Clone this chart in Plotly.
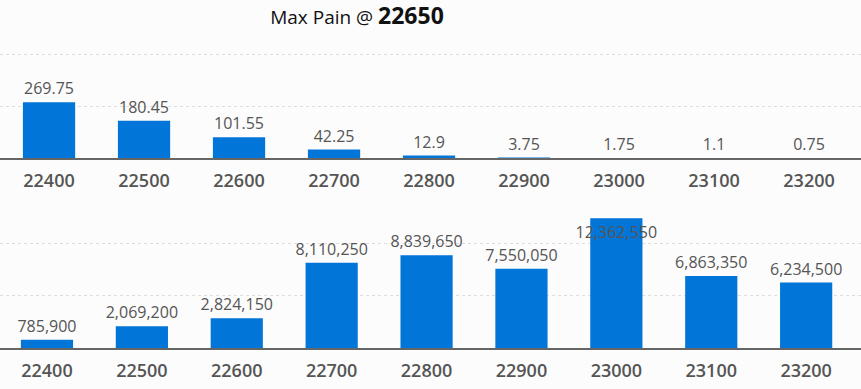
import plotly.graph_objects as go

strikes = ["22400", "22500", "22600", "22700", "22800", "22900", "23000", "23100", "23200"]
premium = [269.75, 180.45, 101.55, 42.25, 12.9, 3.75, 1.75, 1.1, 0.75]
pain = [785900, 2069200, 2824150, 8110250, 8839650, 7550050, 12362550, 6863350, 6234500]
max_pain_strike = "22650"

BAR = "#0275d8"
TXT = "#555555"
FONT = "Open Sans"
LBL = 16

top_text = [str(v) for v in premium]
bot_text = [f"{v:,}" for v in pain]
bot_pos = ["inside" if v == max(pain) else "outside" for v in pain]

fig = go.Figure()
fig.add_trace(go.Bar(
    x=strikes, y=premium, text=top_text, textposition="outside", textangle=0,
    marker=dict(color=BAR, line=dict(width=0)),
    textfont=dict(family=FONT, size=LBL, color=TXT),
    cliponaxis=False, xaxis="x", yaxis="y", hoverinfo="skip",
))
fig.add_trace(go.Bar(
    x=strikes, y=pain, text=bot_text, textposition=bot_pos, textangle=0,
    insidetextanchor="end", constraintext="none",
    marker=dict(color=BAR, line=dict(width=0)),
    textfont=dict(family=FONT, size=LBL, color=TXT),
    insidetextfont=dict(family=FONT, size=LBL, color=TXT),
    outsidetextfont=dict(family=FONT, size=LBL, color=TXT),
    cliponaxis=False, xaxis="x2", yaxis="y2", hoverinfo="skip",
))

H = 389.0
def frac(px):
    return (H - px) / H

xcommon = dict(
    type="category", showgrid=False, zeroline=False,
    showline=True, linecolor="#666666", linewidth=2,
    ticks="outside", ticklen=5, tickcolor="rgba(0,0,0,0)",
    tickfont=dict(family=FONT, size=18, color=TXT, weight=600),
    fixedrange=True, automargin=False,
)
ycommon = dict(
    showgrid=True, gridcolor="#dddddd", griddash="dot", gridwidth=1,
    zeroline=False, showticklabels=False, showline=False, ticks="",
    fixedrange=True, automargin=False,
)

fig.update_layout(
    width=861, height=389,
    margin=dict(l=0, r=0, t=0, b=0),
    paper_bgcolor="#fcfcfc", plot_bgcolor="#fcfcfc",
    showlegend=False, bargap=0.45,
    title=dict(
        text=f"Max Pain @ <b><span style='font-size:23px'>{max_pain_strike}</span></b>",
        x=357 / 861, xanchor="center", y=1 - 17 / H, yanchor="middle",
        font=dict(family=FONT, size=19, color="#111111"),
    ),
    xaxis=dict(xcommon, domain=[0, 1], range=[-0.516, 8.547], anchor="y"),
    yaxis=dict(ycommon, domain=[frac(158.3), frac(45.2)], range=[0, 545], tickvals=[250, 500], anchor="x"),
    xaxis2=dict(xcommon, domain=[0, 1], range=[-0.495, 8.578], anchor="y2"),
    yaxis2=dict(ycommon, domain=[frac(348), frac(215)], range=[0, 12.67e6], tickvals=[5e6, 10e6], anchor="x2"),
)

fig.write_html(
    "out.html",
    config={"displayModeBar": False, "staticPlot": True},
    post_script="document.body.style.margin='0';document.body.style.overflow='hidden';",
)
